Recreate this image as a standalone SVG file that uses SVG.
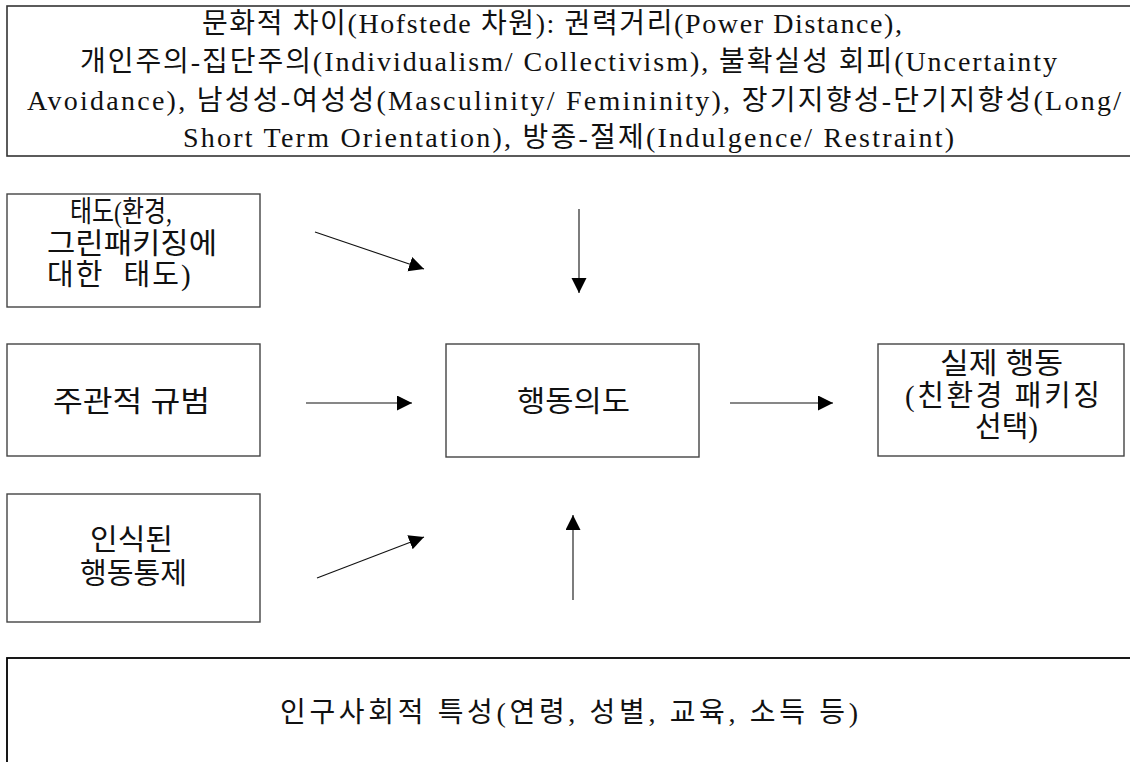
<svg xmlns="http://www.w3.org/2000/svg" width="1130" height="762" viewBox="0 0 1130 762">
<style>
.box{fill:#fff;stroke:#444;stroke-width:1.4}
.t{font-family:"Liberation Serif","Noto Sans CJK KR",serif;fill:#111}
.top{font-size:28px}
.n{font-size:29px}
.b{font-size:28px}
.c{stroke:#111;stroke-width:1.1;fill:none;marker-end:url(#ah)}
</style>
<defs>
<marker id="ah" markerUnits="userSpaceOnUse" markerWidth="16" markerHeight="16" refX="15" refY="7.5" orient="auto">
<path d="M0,0 L15,7.5 L0,15 Z" fill="#000"/>
</marker>
</defs>
<rect width="1130" height="762" fill="#fff"/>
<g id="culture">
<rect x="7" y="6" width="1140" height="150" fill="#fff" stroke="#333" stroke-width="1.6"/>
<text class="t top" x="202" y="33" textLength="700">문화적 차이(Hofstede 차원): 권력거리(Power Distance),</text>
<text class="t top" x="80" y="71" textLength="977">개인주의-집단주의(Individualism/ Collectivism), 불확실성 회피(Uncertainty</text>
<text class="t top" x="27" y="109.5" textLength="1094">Avoidance), 남성성-여성성(Masculinity/ Femininity), 장기지향성-단기지향성(Long/</text>
<text class="t top" x="183" y="147" textLength="771">Short Term Orientation), 방종-절제(Indulgence/ Restraint)</text>
</g>
<g id="attitude">
<rect class="box" x="7" y="194" width="253" height="113"/>
<text class="t n" x="70" y="222" textLength="102" lengthAdjust="spacingAndGlyphs">태도(환경,</text>
<text class="t n" x="47" y="254" textLength="170" lengthAdjust="spacingAndGlyphs">그린패키징에</text>
<text class="t n" x="47" y="285" word-spacing="10" letter-spacing="2">대한 태도)</text>
</g>
<g id="norm">
<rect class="box" x="7" y="344" width="253" height="112"/>
<text class="t n" x="53" y="412" textLength="157" lengthAdjust="spacingAndGlyphs">주관적 규범</text>
</g>
<g id="control">
<rect class="box" x="7" y="494" width="253" height="128"/>
<text class="t n" x="90" y="550" textLength="83" lengthAdjust="spacingAndGlyphs">인식된</text>
<text class="t n" x="80" y="584" textLength="107" lengthAdjust="spacingAndGlyphs">행동통제</text>
</g>
<g id="intention">
<rect class="box" x="446" y="344" width="253" height="113"/>
<text class="t n" x="517" y="412" textLength="113" lengthAdjust="spacingAndGlyphs">행동의도</text>
</g>
<g id="behavior">
<rect class="box" x="878" y="344" width="246" height="112"/>
<text class="t n" x="940" y="374" textLength="123" lengthAdjust="spacingAndGlyphs">실제 행동</text>
<text class="t n" x="905" y="406" textLength="195">(친환경 패키징</text>
<text class="t n" x="975" y="437" textLength="63" lengthAdjust="spacingAndGlyphs">선택)</text>
</g>
<g id="demographics">
<rect x="7" y="658" width="1140" height="120" fill="#fff" stroke="#000" stroke-width="1.8"/>
<text class="t b" x="280" y="722" textLength="578">인구사회적 특성(연령, 성별, 교육, 소득 등)</text>
</g>
<g id="connectors">
<line class="c" x1="315" y1="232" x2="424" y2="269"/>
<line class="c" x1="579" y1="209" x2="579" y2="293"/>
<line class="c" x1="306" y1="403" x2="412" y2="403"/>
<line class="c" x1="730" y1="403" x2="833" y2="403"/>
<line class="c" x1="317" y1="578" x2="424" y2="537"/>
<line class="c" x1="573" y1="600" x2="573" y2="515"/>
</g>
</svg>
